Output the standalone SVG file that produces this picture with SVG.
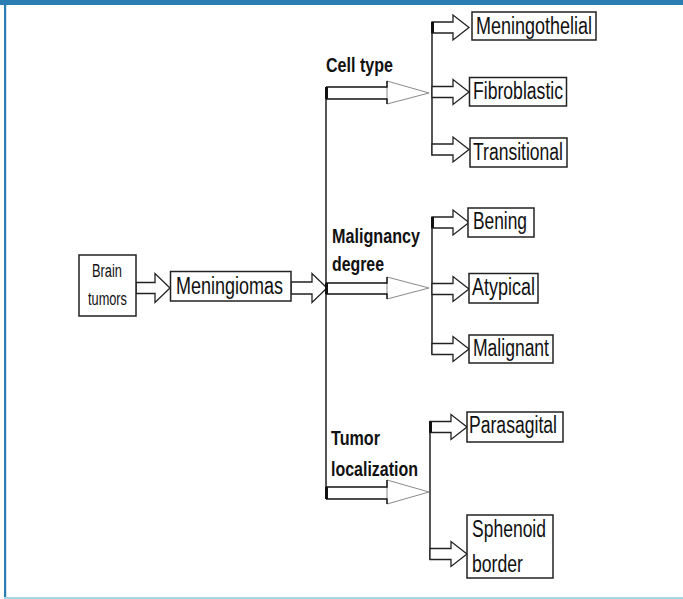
<svg xmlns="http://www.w3.org/2000/svg" xmlns:xlink="http://www.w3.org/1999/xlink" width="683" height="599" viewBox="0 0 683 599">
<style>
.box{fill:#fff;stroke:#222;stroke-width:1.5}
.t{font-family:"Liberation Sans",Arial,sans-serif;font-size:23.5px;fill:#111}
.ts{font-family:"Liberation Sans",Arial,sans-serif;font-size:18px;fill:#111}
.tb{font-family:"Liberation Sans",Arial,sans-serif;font-size:20px;font-weight:bold;fill:#111}
.ln{fill:none;stroke:#111;stroke-width:1.4}
.ar{fill:#fff;stroke:#222;stroke-width:1.3;stroke-linejoin:miter}
.hd{fill:#fff;stroke:#8a8a8a;stroke-width:1}
.sh{fill:none;stroke:#111;stroke-width:1.4}
.end{stroke:#111;stroke-width:3}
</style>
<defs>
<path id="sa" d="M0,-5.5 H21 V-12.5 L37,0 L21,12.5 V5.5 H0 Z"/>
</defs>
<rect x="0" y="0" width="683" height="599" fill="#fff"/>
<rect x="0" y="0" width="683" height="5" fill="#2a7db2"/>
<rect x="4" y="0" width="2.2" height="598" fill="#2a7db2"/>
<rect x="4" y="597" width="679" height="2" fill="#a9d5e8"/>

<g id="connectors">
  <path class="ar" d="M136,282.5 H155 V273.5 L170,288 L155,302.5 V293.5 H136 Z"/>
  <path class="ar" d="M291,282 H312 V273.5 L327,288 L312,302.5 V294 H291 Z"/>
  <line class="ln" x1="326" y1="87" x2="326" y2="499"/>
  <path class="hd" d="M387,81 L429,93 L387,104 Z"/>
  <path class="sh" d="M326,87 H387 V81 M326,99 H387 V104"/>
  <line class="end" x1="326.5" y1="87" x2="326.5" y2="99"/>
  <path class="hd" d="M387,277 L429,288 L387,299 Z"/>
  <path class="sh" d="M326,283 H387 V277 M326,294 H387 V299"/>
  <line class="end" x1="326.5" y1="283" x2="326.5" y2="294"/>
  <path class="hd" d="M387,480 L429,492 L387,504 Z"/>
  <path class="sh" d="M326,487 H387 V480 M326,499 H387 V504"/>
  <line class="end" x1="326.5" y1="487" x2="326.5" y2="499"/>
  <line class="ln" x1="432" y1="22" x2="432" y2="155.5"/>
  <line class="ln" x1="432" y1="217" x2="432" y2="354.5"/>
  <line class="ln" x1="430" y1="421" x2="430" y2="559.5"/>
  <use xlink:href="#sa" href="#sa" class="ar" x="432" y="27.5"/>
  <use xlink:href="#sa" href="#sa" class="ar" x="432" y="92"/>
  <use xlink:href="#sa" href="#sa" class="ar" x="432" y="149.5"/>
  <use xlink:href="#sa" href="#sa" class="ar" x="432" y="222.5"/>
  <use xlink:href="#sa" href="#sa" class="ar" x="432" y="289"/>
  <use xlink:href="#sa" href="#sa" class="ar" x="432" y="349"/>
  <use xlink:href="#sa" href="#sa" class="ar" x="430" y="427"/>
  <use xlink:href="#sa" href="#sa" class="ar" x="430" y="554"/>
  <line class="end" x1="432.5" y1="22" x2="432.5" y2="33"/>
  <line class="end" x1="432.5" y1="217" x2="432.5" y2="228"/>
  <line class="end" x1="430.5" y1="421.5" x2="430.5" y2="432.5"/>
</g>

<g id="brain-tumors">
  <rect class="box" x="79" y="255" width="57" height="61"/>
  <text class="ts" x="92" y="277" textLength="30" lengthAdjust="spacingAndGlyphs">Brain</text>
  <text class="ts" x="88" y="305" textLength="39" lengthAdjust="spacingAndGlyphs">tumors</text>
</g>
<g id="meningiomas">
  <rect class="box" x="170.5" y="271.5" width="120.5" height="29.5"/>
  <text class="t" x="176" y="294" textLength="107" lengthAdjust="spacingAndGlyphs">Meningiomas</text>
</g>
<g id="label-cell-type">
  <text class="tb" x="326" y="72" textLength="67" lengthAdjust="spacingAndGlyphs">Cell type</text>
</g>
<g id="label-malignancy">
  <text class="tb" x="332" y="243" textLength="88" lengthAdjust="spacingAndGlyphs">Malignancy</text>
  <text class="tb" x="332" y="271" textLength="52" lengthAdjust="spacingAndGlyphs">degree</text>
</g>
<g id="label-tumor">
  <text class="tb" x="331" y="445" textLength="49" lengthAdjust="spacingAndGlyphs">Tumor</text>
  <text class="tb" x="331" y="476" textLength="87" lengthAdjust="spacingAndGlyphs">localization</text>
</g>
<g id="meningothelial">
  <rect class="box" x="472" y="12" width="124" height="28"/>
  <text class="t" x="476" y="34" textLength="116" lengthAdjust="spacingAndGlyphs">Meningothelial</text>
</g>
<g id="fibroblastic">
  <rect class="box" x="469.5" y="77.5" width="97" height="28.5"/>
  <text class="t" x="473" y="99" textLength="90" lengthAdjust="spacingAndGlyphs">Fibroblastic</text>
</g>
<g id="transitional">
  <rect class="box" x="470" y="138" width="97" height="29"/>
  <text class="t" x="473" y="160" textLength="90" lengthAdjust="spacingAndGlyphs">Transitional</text>
</g>
<g id="bening">
  <rect class="box" x="468" y="208" width="66" height="29"/>
  <text class="t" x="473" y="229" textLength="54" lengthAdjust="spacingAndGlyphs">Bening</text>
</g>
<g id="atypical">
  <rect class="box" x="469" y="273.5" width="69" height="29.5"/>
  <text class="t" x="472" y="295" textLength="63" lengthAdjust="spacingAndGlyphs">Atypical</text>
</g>
<g id="malignant">
  <rect class="box" x="469" y="335" width="84" height="28"/>
  <text class="t" x="473" y="356" textLength="76" lengthAdjust="spacingAndGlyphs">Malignant</text>
</g>
<g id="parasagital">
  <rect class="box" x="467" y="412" width="96" height="30"/>
  <text class="t" x="469" y="433" textLength="88" lengthAdjust="spacingAndGlyphs">Parasagital</text>
</g>
<g id="sphenoid-border">
  <rect class="box" x="467" y="515" width="86" height="63"/>
  <text class="t" x="472" y="537" textLength="74" lengthAdjust="spacingAndGlyphs">Sphenoid</text>
  <text class="t" x="472" y="572" textLength="51" lengthAdjust="spacingAndGlyphs">border</text>
</g>
</svg>
